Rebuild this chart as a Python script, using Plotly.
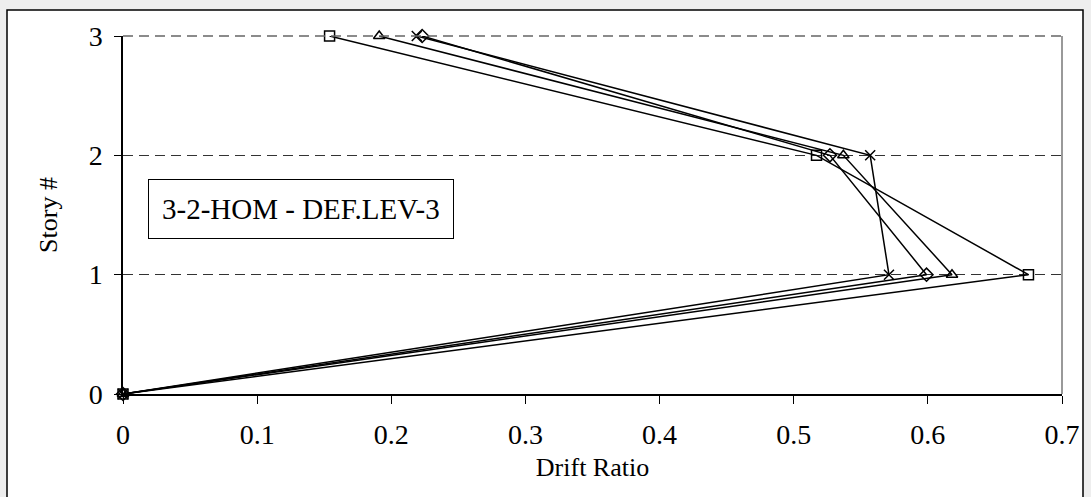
import plotly.graph_objects as go

stories = [0, 1, 2, 3]
drift_square = [0.0, 0.675, 0.517, 0.154]
drift_triangle = [0.0, 0.618, 0.537, 0.191]
drift_diamond = [0.0, 0.599, 0.527, 0.223]
drift_x = [0.0, 0.571, 0.557, 0.219]
x_ticks = [0, 0.1, 0.2, 0.3, 0.4, 0.5, 0.6, 0.7]
y_ticks = [0, 1, 2, 3]
label_text = "3-2-HOM - DEF.LEV-3"

series = [
    (drift_square, "square-open"),
    (drift_triangle, "triangle-up-open"),
    (drift_diamond, "diamond-open"),
    (drift_x, "x-thin-open"),
]

fig = go.Figure()
for vals, sym in series:
    fig.add_trace(go.Scatter(
        x=vals, y=stories, mode="lines+markers",
        line=dict(color="black", width=1.5),
        marker=dict(symbol=sym, size=10, color="black",
                    line=dict(color="black", width=1.5)),
        cliponaxis=False, showlegend=False,
    ))

font_family = "Liberation Serif"
fig.update_layout(
    width=1091, height=497,
    margin=dict(l=123, r=29, t=36, b=103),
    paper_bgcolor="#eeeeee",
    plot_bgcolor="white",
    font=dict(family=font_family, color="black"),
    xaxis=dict(
        range=[0, 0.7], tickvals=x_ticks, ticktext=[str(v) for v in x_ticks],
        showgrid=False, zeroline=False,
        showline=True, linecolor="black", linewidth=1.5,
        ticks="outside", ticklen=8, tickcolor="black", tickwidth=1,
        ticklabelstandoff=7,
        tickfont=dict(size=28, family=font_family),
        title=dict(text="Drift Ratio", font=dict(size=26, family=font_family), standoff=8),
    ),
    yaxis=dict(
        range=[0, 3], tickvals=y_ticks,
        showgrid=True, gridcolor="#333333", griddash="10px,6px", gridwidth=1,
        zeroline=False,
        showline=True, linecolor="black", linewidth=1.5,
        ticks="outside", ticklen=7, tickcolor="black", tickwidth=1,
        ticklabelstandoff=6,
        tickfont=dict(size=28, family=font_family),
        title=dict(text="Story #", font=dict(size=26, family=font_family), standoff=24),
    ),
    shapes=[
        dict(type="rect", xref="paper", yref="paper",
             x0=(7 - 123) / 939, x1=(1083 - 123) / 939,
             y0=(394 - 520) / 358, y1=(394 - 10) / 358,
             fillcolor="white", line=dict(color="black", width=1.5), layer="below"),
        dict(type="line", xref="paper", yref="paper", x0=1, x1=1, y0=0, y1=1,
             line=dict(color="#777777", width=1.5)),
        dict(type="line", xref="paper", yref="paper", x0=0, x1=1, y0=1, y1=1,
             line=dict(color="#666666", width=1.5, dash="10px,6px")),
    ],
    annotations=[
        dict(text=label_text, xref="paper", yref="paper",
             x=(148 - 123) / 939, y=(394 - 209) / 358, xanchor="left", yanchor="middle",
             showarrow=False, font=dict(size=29, family=font_family, color="black"),
             bordercolor="black", borderwidth=1, borderpad=13, bgcolor="white"),
    ],
)

fig.write_html("out.html", config={"displayModeBar": False},
               post_script="document.body.style.margin='0';document.body.style.background='#eeeeee';")
